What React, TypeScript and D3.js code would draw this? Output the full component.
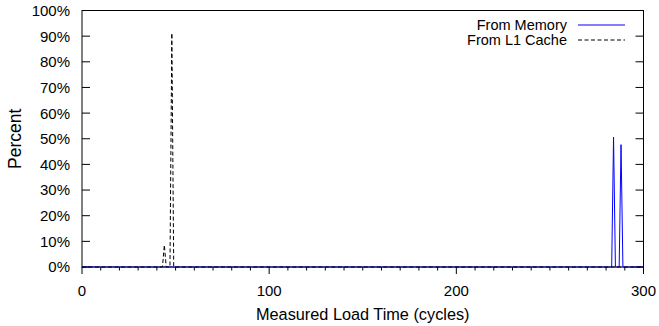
import { useRef, useEffect } from 'react';
import * as d3 from 'd3';

const W = 659;
const H = 326;

// [cycles, percent]
const memoryPts: [number, number][] = [
  [0, 0], [283, 0], [284, 50.6], [285, 0], [287, 0], [288, 47.7], [289, 0], [300, 0],
];
const l1Pts: [number, number][] = [
  [0, 0], [43, 0], [44, 8.6], [45, 0], [47, 0], [48, 91.2], [49, 0], [300, 0],
];

const yTicks = [0, 10, 20, 30, 40, 50, 60, 70, 80, 90, 100];
const xMajor = [0, 100, 200, 300];
const xMinor = [10, 20, 30, 40, 50, 60, 70, 80, 90, 110, 120, 130, 140, 150, 160, 170, 180, 190,
  210, 220, 230, 240, 250, 260, 270, 280, 290];

const legendItems = [
  { name: 'From Memory', color: '#0000ff', dash: null as string | null },
  { name: 'From L1 Cache', color: '#000000', dash: '4,2.5' },
];

const FONT = '"Liberation Sans", Arial, Helvetica, sans-serif';

export default function App() {
  const ref = useRef<SVGSVGElement>(null);

  useEffect(() => {
    const svg = d3.select(ref.current);
    svg.selectAll('*').remove();

    const m = { left: 82, right: 15.5, top: 10.5, bottom: 59 };
    const x = d3.scaleLinear().domain([0, 300]).range([m.left, W - m.right]);
    const y = d3.scaleLinear().domain([0, 100]).range([H - m.bottom, m.top]);

    svg.append('rect').attr('width', W).attr('height', H).attr('fill', '#fff');

    const x0 = x(0), x1 = x(300), yb = y(0), yt = y(100);

    // ── frame ────────────────────────────────────
    svg.append('rect')
      .attr('x', x0).attr('y', yt).attr('width', x1 - x0).attr('height', yb - yt)
      .attr('fill', 'none').attr('stroke', '#000').attr('stroke-width', 1);

    // y ticks (inward, mirrored)
    yTicks.forEach(t => {
      const yy = y(t);
      svg.append('line').attr('x1', x0).attr('x2', x0 + 8).attr('y1', yy).attr('y2', yy)
        .attr('stroke', '#000').attr('stroke-width', 1);
      svg.append('line').attr('x1', x1).attr('x2', x1 - 8).attr('y1', yy).attr('y2', yy)
        .attr('stroke', '#000').attr('stroke-width', 1);
      svg.append('text').attr('x', 70).attr('y', yy).attr('dy', '0.36em')
        .attr('text-anchor', 'end').attr('font-family', FONT).attr('font-size', 15)
        .attr('fill', '#000').text(`${t}%`);
    });

    // x ticks (outward)
    xMajor.forEach(t => {
      svg.append('line').attr('x1', x(t)).attr('x2', x(t)).attr('y1', yb).attr('y2', yb + 7)
        .attr('stroke', '#000').attr('stroke-width', 1);
      svg.append('text').attr('x', x(t)).attr('y', 296)
        .attr('text-anchor', 'middle').attr('font-family', FONT).attr('font-size', 15)
        .attr('fill', '#000').text(String(t));
    });
    xMinor.forEach(t => {
      svg.append('line').attr('x1', x(t)).attr('x2', x(t)).attr('y1', yb).attr('y2', yb + 3.5)
        .attr('stroke', '#000').attr('stroke-width', 1);
    });

    // axis titles
    svg.append('text').attr('x', (x0 + x1) / 2).attr('y', 320)
      .attr('text-anchor', 'middle').attr('font-family', FONT).attr('font-size', 16.3)
      .attr('fill', '#000').text('Measured Load Time (cycles)');
    svg.append('text').attr('transform', `translate(21,${(yt + yb) / 2}) rotate(-90)`)
      .attr('text-anchor', 'middle').attr('font-family', FONT).attr('font-size', 17.5)
      .attr('fill', '#000').text('Percent');

    // ── series ───────────────────────────────────
    const line = d3.line<[number, number]>().x(d => x(d[0])).y(d => y(d[1]));
    svg.append('path').datum(memoryPts).attr('d', line)
      .attr('fill', 'none').attr('stroke', legendItems[0].color).attr('stroke-width', 1);
    svg.append('path').datum(l1Pts).attr('d', line)
      .attr('fill', 'none').attr('stroke', legendItems[1].color).attr('stroke-width', 1)
      .attr('stroke-dasharray', legendItems[1].dash);

    // ── legend ───────────────────────────────────
    legendItems.forEach((it, i) => {
      const ly = 25 + i * 15;
      svg.append('text').attr('x', 567).attr('y', ly).attr('dy', '0.36em')
        .attr('text-anchor', 'end').attr('font-family', FONT).attr('font-size', 14.5)
        .attr('fill', '#000').text(it.name);
      svg.append('line').attr('x1', 578).attr('x2', 625).attr('y1', ly).attr('y2', ly)
        .attr('stroke', it.color).attr('stroke-width', 1)
        .attr('stroke-dasharray', it.dash);
    });
  }, []);

  return (
    <svg ref={ref} width={W} height={H}
      style={{ position: 'absolute', left: 0, top: 0, display: 'block' }} />
  );
}
